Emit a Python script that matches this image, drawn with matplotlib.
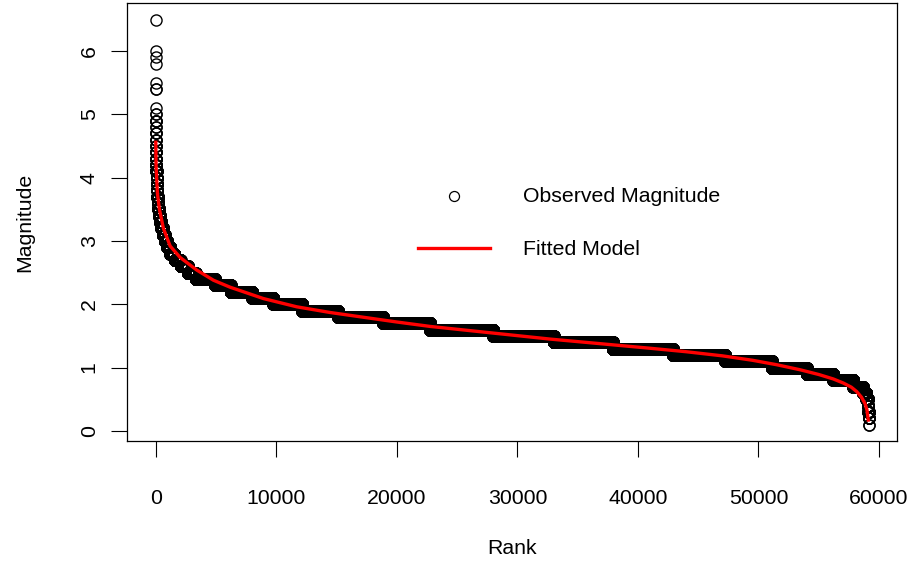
import numpy as np
import matplotlib
matplotlib.use("Agg")
import matplotlib.pyplot as plt

plt.rcParams['font.family'] = ['Liberation Sans', 'DejaVu Sans']

# magnitude levels (rounded to 0.1) and the last rank at which each level occurs
levels = [6.5, 6.0, 5.9, 5.8, 5.5, 5.4, 5.1, 5.0, 4.9, 4.8, 4.7, 4.6, 4.5, 4.4,
          4.3, 4.2, 4.1, 4.0, 3.9, 3.8, 3.7, 3.6, 3.5, 3.4, 3.3, 3.2, 3.1, 3.0,
          2.9, 2.8, 2.7, 2.6, 2.5, 2.4, 2.3, 2.2, 2.1, 2.0, 1.9, 1.8, 1.7, 1.6,
          1.5, 1.4, 1.3, 1.2, 1.1, 1.0, 0.9, 0.8, 0.7, 0.6, 0.5, 0.4, 0.3, 0.2, 0.1]
end_rank = [1, 2, 3, 4, 5, 7, 8, 10, 14, 16, 19, 22, 26, 31,
            38, 48, 62, 80, 100, 125, 160, 210, 270, 350, 450, 580, 740, 930,
            1200, 1550, 2050, 2650, 3300, 4900, 6200, 8000, 9750, 12140, 15120, 18850, 22750, 28000,
            33000, 37900, 42900, 47230, 51100, 54000, 56200, 57870, 58670, 58950, 59070, 59120, 59140, 59148, 59150]

# fitted model
fit_rank = [1, 25, 135, 300, 630, 1190, 2015, 3400, 4780, 6160, 8930, 11690,
            14460, 17220, 19990, 22750, 32700, 37000, 41000, 44000, 47000,
            49500, 51500, 53450, 55000, 56200, 57040, 57700, 58150, 58550,
            58840, 59000, 59110]
fit_mag = [4.56, 4.17, 3.75, 3.50, 3.20, 2.92, 2.74, 2.54, 2.38, 2.27, 2.09, 1.96,
           1.87, 1.795, 1.72, 1.65, 1.45, 1.375, 1.305, 1.25, 1.185,
           1.115, 1.045, 0.965, 0.89, 0.82, 0.755, 0.69, 0.62, 0.53,
           0.43, 0.33, 0.17]

counts = np.diff(np.concatenate([[0], end_rank]))
magnitude = np.repeat(levels, counts)
rank = np.arange(1, len(magnitude) + 1)

W, H = 917, 563
fig = plt.figure(figsize=(W / 100, H / 100), dpi=100)
left, right, top, bottom = 127.3, 897.3, 3.3, 440.7
ax = fig.add_axes([left / W, 1 - bottom / H, (right - left) / W, (bottom - top) / H])

fs = 15.3
ax.plot(rank, magnitude, 'o', mfc='none', mec='black', ms=8, mew=1.0, zorder=2)
ax.plot(fit_rank, fit_mag, color='#ff0000', lw=2.4, zorder=3)

n = len(magnitude)
ax.set_xlim(1 - 0.04 * (n - 1), n + 0.04 * (n - 1))
ymin, ymax = min(levels), max(levels)
ax.set_ylim(ymin - 0.04 * (ymax - ymin), ymax + 0.04 * (ymax - ymin))

ax.set_xticks(np.arange(0, 60001, 10000))
ax.set_yticks(np.arange(0, 7))
ax.tick_params(axis='both', direction='out', length=11.5, width=0.8,
               labelsize=fs, color='black')
ax.tick_params(axis='x', pad=23)
ax.tick_params(axis='y', pad=9)
for lab in ax.get_yticklabels():
    lab.set_rotation(90)
    lab.set_va('center')
for sp in ax.spines.values():
    sp.set_linewidth(0.9)

fig.text(512.3 / W, 1 - 548 / H, 'Rank', fontsize=fs, ha='center', va='center')
fig.text(25 / W, 1 - 222 / H, 'Magnitude', fontsize=fs, ha='center', va='center',
         rotation=90)

# legend without box
ax.plot([0.4243], [0.5594], 'o', mfc='none', mec='black', ms=7.2, mew=0.9,
        transform=ax.transAxes)
ax.plot([0.3775, 0.4710], [0.4406, 0.4406], color='#ff0000', lw=2.4,
        transform=ax.transAxes)
ax.text(0.5139, 0.5594, 'Observed Magnitude', fontsize=fs, va='center',
        transform=ax.transAxes)
ax.text(0.5139, 0.4380, 'Fitted Model', fontsize=fs, va='center',
        transform=ax.transAxes)

fig.savefig('out.png', dpi=100)
